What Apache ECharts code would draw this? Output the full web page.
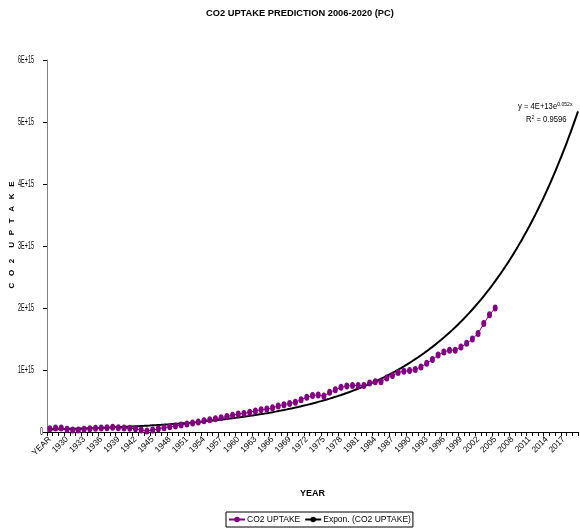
<!DOCTYPE html>
<html><head><meta charset="utf-8">
<script src="https://cdn.jsdelivr.net/npm/echarts@6/dist/echarts.min.js"></script>
<style>html,body{margin:0;padding:0;background:#fff}#c{width:580px;height:529px}</style>
</head><body><div id="c"></div>
<script>
const categories = ['YEAR','1928','1929','1930','1931','1932','1933','1934','1935','1936','1937','1938','1939','1940','1941','1942','1943','1944','1945','1946','1947','1948','1949','1950','1951','1952','1953','1954','1955','1956','1957','1958','1959','1960','1961','1962','1963','1964','1965','1966','1967','1968','1969','1970','1971','1972','1973','1974','1975','1976','1977','1978','1979','1980','1981','1982','1983','1984','1985','1986','1987','1988','1989','1990','1991','1992','1993','1994','1995','1996','1997','1998','1999','2000','2001','2002','2003','2004','2005','2006','2007','2008','2009','2010','2011','2012','2013','2014','2015','2016','2017','2018','2019'];

const co2Uptake = [
  5.3e13, 6.4e13, 6.4e13, 4.3e13, 3.2e13, 3.2e13, 4.3e13, 5.3e13, 5.9e13, 6.4e13,
  6.9e13, 7.5e13, 6.9e13, 6.4e13, 5.9e13, 5.3e13, 3.2e13, 1.6e13, 3.2e13, 5.3e13,
  6.9e13, 8.5e13, 9.6e13, 1.12e14, 1.28e14, 1.44e14, 1.6e14, 1.81e14, 1.97e14, 2.13e14,
  2.29e14, 2.5e14, 2.7e14, 2.9e14, 3.0e14, 3.2e14, 3.4e14, 3.6e14, 3.7e14, 3.9e14,
  4.2e14, 4.4e14, 4.6e14, 4.8e14, 5.2e14, 5.6e14, 5.9e14, 5.95e14, 5.8e14, 6.4e14,
  6.8e14, 7.2e14, 7.4e14, 7.5e14, 7.5e14, 7.5e14, 7.9e14, 8.1e14, 8.1e14, 8.7e14,
  9.1e14, 9.6e14, 9.8e14, 9.9e14, 1.01e15, 1.05e15, 1.11e15, 1.17e15, 1.24e15, 1.29e15,
  1.32e15, 1.32e15, 1.37e15, 1.43e15, 1.5e15, 1.59e15, 1.75e15, 1.89e15, 2.0e15
];

const yTickValues = [0, 1e15, 2e15, 3e15, 4e15, 5e15, 6e15];
const yTickLabels = ['0','1E+15','2E+15','3E+15','4E+15','5E+15','6E+15'];

// Excel exponential trendline, as printed on the chart: y = 4E+13 e^(0.052x)
const trendA = 4e13;
const trendB = 0.052;

const trendData = [];
for (let x = 1; x <= categories.length + 0.5001; x += 0.25) {
  trendData.push([x, trendA * Math.exp(trendB * x)]);
}

const chart = echarts.init(document.getElementById('c'), null, {renderer: 'canvas'});
const FONT = 'Liberation Sans, Arial, sans-serif';

const baseGraphic = [{
  type: 'text',
  x: 12,
  y: 235,
  rotation: Math.PI / 2,
  style: {
    text: 'C   O   2     U   P   T   A   K   E',
    fontFamily: FONT, fontSize: 8, fontWeight: 'bold', fill: '#000',
    align: 'center', verticalAlign: 'middle'
  }
}, {
  type: 'text',
  x: 518,
  y: 101,
  scaleX: 0.85,
  style: {
    text: 'y = 4E+13e{s|0.052x}',
    fontFamily: FONT, fontSize: 9, fill: '#000',
    rich: {s: {fontFamily: FONT, fontSize: 6, fill: '#000', padding: [0, 0, 6, 0]}}
  }
}, {
  type: 'text',
  x: 526,
  y: 114,
  scaleX: 0.85,
  style: {
    text: 'R{s|2} = 0.9596',
    fontFamily: FONT, fontSize: 9, fill: '#000',
    rich: {s: {fontFamily: FONT, fontSize: 6, fill: '#000', padding: [0, 0, 6, 0]}}
  }
}];

chart.setOption({
  animation: false,
  backgroundColor: '#fff',
  title: {
    text: 'CO2 UPTAKE PREDICTION 2006-2020 (PC)',
    left: 201,
    top: 4,
    textStyle: {fontFamily: FONT, fontSize: 9.3, fontWeight: 'bold', color: '#000'}
  },
  grid: {left: 47, right: 2, top: 60, bottom: 97, containLabel: false, outerBoundsMode: 'none'},
  legend: {
    bottom: 2,
    left: 226,
    orient: 'horizontal',
    borderColor: '#000',
    borderWidth: 1,
    borderRadius: 0,
    padding: [3, 2, 3, 2],
    itemGap: 4,
    itemWidth: 16,
    itemHeight: 7,
    textStyle: {fontFamily: FONT, fontSize: 8.5, color: '#000', padding: [0, 0, 0, -3]},
    data: ['CO2 UPTAKE', 'Expon. (CO2 UPTAKE)']
  },
  xAxis: [{
    type: 'category',
    data: categories,
    boundaryGap: true,
    name: 'YEAR',
    nameLocation: 'middle',
    nameGap: 57,
    nameTextStyle: {fontFamily: FONT, fontSize: 9, fontWeight: 'bold', color: '#000'},
    axisLine: {lineStyle: {color: '#000', width: 1}},
    axisTick: {show: true, interval: 0, length: 4, lineStyle: {color: '#000'}},
    axisLabel: {interval: 2, rotate: 45, fontFamily: FONT, fontSize: 8.5, color: '#000', margin: 6},
    splitLine: {show: false}
  }, {
    type: 'value',
    min: 0.5,
    max: categories.length + 0.5,
    show: false,
    splitLine: {show: false}
  }],
  yAxis: {
    type: 'value',
    min: 0,
    max: 6e15,
    interval: 1e15,
    axisLine: {show: true, lineStyle: {color: '#808080', width: 1}},
    axisTick: {show: true, length: 4, lineStyle: {color: '#000'}},
    axisLabel: {show: false},
    splitLine: {show: false}
  },
  series: [{
    name: 'CO2 UPTAKE',
    type: 'line',
    data: co2Uptake,
    symbol: 'circle',
    symbolSize: [5, 7],
    showAllSymbol: true,
    itemStyle: {color: '#800080'},
    lineStyle: {color: '#800080', width: 1},
    z: 3
  }, {
    name: 'Expon. (CO2 UPTAKE)',
    type: 'line',
    xAxisIndex: 1,
    data: trendData,
    symbol: 'none',
    smooth: false,
    lineStyle: {color: '#000', width: 2},
    itemStyle: {color: '#000'},
    z: 2
  }],
  graphic: baseGraphic
});

// Y tick labels (condensed like the original), placed through the y axis scale
const axisX = chart.convertToPixel({xAxisIndex: 1}, 0.5);
const yLabelGraphics = yTickValues.map(function (v, i) {
  const py = chart.convertToPixel({yAxisIndex: 0}, v);
  return {
    type: 'text',
    x: axisX - (i === 0 ? 4 : 13),
    y: py,
    scaleX: 0.52,
    style: {
      text: yTickLabels[i],
      fontFamily: FONT, fontSize: 10.5, fill: '#000',
      align: 'right', verticalAlign: 'middle'
    }
  };
});
chart.setOption({graphic: baseGraphic.concat(yLabelGraphics)});
</script>
</body></html>
